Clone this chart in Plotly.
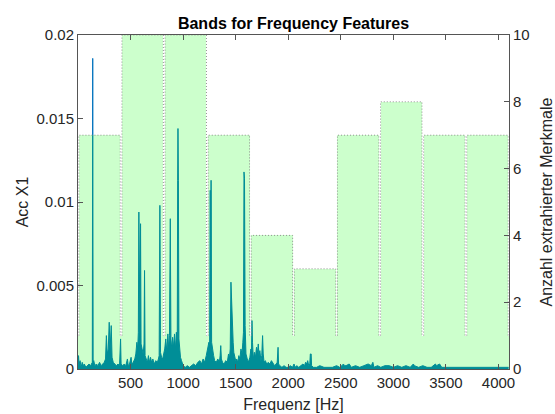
import plotly.graph_objects as go

# ---- data ----
band_edges_hz = [0, 410, 820, 1230, 1640, 2050, 2460, 2870, 3280, 3690, 4100]
features_per_band = [7, 10, 10, 7, 4, 3, 7, 8, 7, 7]

freq_hz = [0, 5, 10, 20, 30, 40, 50, 60, 75, 90, 105, 120, 132, 136, 140, 144, 150, 160, 175, 190,
           205, 220, 235, 250, 262, 270, 278, 288, 297, 305, 316, 324, 335, 350, 365, 380, 395, 405, 410, 425,
           440, 455, 470, 478, 490, 505, 512, 525, 540, 550, 560, 568, 574, 579, 584, 590, 595, 600, 610, 620,
           628, 633, 638, 650, 660, 670, 678, 690, 700, 712, 725, 740, 755, 765, 772, 779, 785, 795, 805, 815,
           825, 835, 845, 855, 862, 870, 878, 884, 892, 900, 910, 918, 928, 936, 944, 948, 951, 955, 960, 968,
           975, 985, 1000, 1020, 1040, 1060, 1080, 1100, 1120, 1140, 1160, 1175, 1190, 1205, 1220, 1235, 1245, 1252, 1258, 1262,
           1266, 1271, 1280, 1290, 1300, 1315, 1330, 1345, 1352, 1358, 1364, 1375, 1390, 1405, 1420, 1432, 1440, 1448, 1455, 1460,
           1465, 1470, 1476, 1482, 1490, 1500, 1510, 1520, 1530, 1540, 1550, 1560, 1568, 1574, 1579, 1584, 1590, 1598, 1610, 1620,
           1635, 1645, 1650, 1655, 1660, 1668, 1678, 1688, 1698, 1706, 1715, 1722, 1730, 1740, 1748, 1756, 1762, 1770, 1782, 1795,
           1810, 1825, 1840, 1855, 1870, 1885, 1895, 1903, 1908, 1920, 1940, 1960, 1980, 2000, 2020, 2040, 2055, 2065, 2080, 2100,
           2120, 2140, 2155, 2165, 2175, 2185, 2195, 2205, 2210, 2218, 2222, 2240, 2270, 2300, 2340, 2380, 2420, 2460, 2490, 2510,
           2525, 2535, 2550, 2580, 2600, 2640, 2680, 2720, 2760, 2790, 2805, 2815, 2850, 2880, 2920, 2960, 3000, 3040, 3080, 3120,
           3160, 3190, 3200, 3240, 3280, 3320, 3360, 3400, 3410, 3440, 3460, 3500, 3560, 3620, 3680, 3740, 3800, 3860, 3920, 3980,
           4040, 4096]

acc_x1 = [0.0002, 0.0008, 0.0003, 0.0005, 0.0001, 0.0004, 0.0002, 0.0003, 0.0001, 0.0002, 0.0003, 0.0002, 0.0003, 0.0004, 0.0186, 0.0004, 0.0005, 0.0002, 0.0003, 0.0002,
          0.0004, 0.0002, 0.0003, 0.0004, 0.0006, 0.0020, 0.0009, 0.0012, 0.0028, 0.0011, 0.0026, 0.0007, 0.0004, 0.0003, 0.0002, 0.0003, 0.0002, 0.0018, 0.0003, 0.0002,
          0.0003, 0.0002, 0.0006, 0.0002, 0.0003, 0.0007, 0.0003, 0.0004, 0.0006, 0.0009, 0.0016, 0.0012, 0.0022, 0.0094, 0.0020, 0.0018, 0.0087, 0.0015, 0.0012, 0.0009,
          0.0015, 0.0059, 0.0008, 0.0005, 0.0004, 0.0008, 0.0004, 0.0007, 0.0004, 0.0006, 0.0003, 0.0005, 0.0004, 0.0006, 0.0008, 0.0098, 0.0010, 0.0007, 0.0006, 0.0009,
          0.0012, 0.0018, 0.0010, 0.0021, 0.0012, 0.0020, 0.0090, 0.0018, 0.0012, 0.0019, 0.0013, 0.0021, 0.0012, 0.0022, 0.0014, 0.0113, 0.0144, 0.0113, 0.0018, 0.0010,
          0.0007, 0.0005, 0.0002, 0.0001, 0.0002, 0.0001, 0.0002, 0.0003, 0.0002, 0.0004, 0.0005, 0.0003, 0.0006, 0.0004, 0.0008, 0.0012, 0.0016, 0.0013, 0.0107, 0.0018,
          0.0113, 0.0016, 0.0011, 0.0008, 0.0005, 0.0004, 0.0006, 0.0004, 0.0008, 0.0014, 0.0006, 0.0004, 0.0003, 0.0005, 0.0004, 0.0009, 0.0006, 0.0012, 0.0052, 0.0042,
          0.0029, 0.0022, 0.0016, 0.0010, 0.0007, 0.0005, 0.0006, 0.0004, 0.0008, 0.0006, 0.0012, 0.0009, 0.0016, 0.0022, 0.0118, 0.0114, 0.0026, 0.0009, 0.0006, 0.0004,
          0.0007, 0.0012, 0.0008, 0.0029, 0.0016, 0.0006, 0.0010, 0.0007, 0.0013, 0.0009, 0.0015, 0.0008, 0.0011, 0.0005, 0.0008, 0.0020, 0.0009, 0.0004, 0.0005, 0.0003,
          0.0004, 0.0003, 0.0005, 0.0003, 0.0002, 0.0003, 0.0004, 0.0013, 0.0003, 0.0002, 0.0001, 0.0002, 0.0001, 0.0001, 0.0002, 0.0001, 0.0003, 0.0001, 0.0002, 0.0001,
          0.0002, 0.0003, 0.0002, 0.0004, 0.0003, 0.0005, 0.0002, 0.0003, 0.0009, 0.0009, 0.0002, 0.0001, 0.0001, 0.0002, 0.0001, 0.0001, 0.0001, 0.0002, 0.0001, 0.0002,
          0.0003, 0.0002, 0.0002, 0.0003, 0.0001, 0.0002, 0.0001, 0.0002, 0.0003, 0.0002, 0.0004, 0.0001, 0.0002, 0.0001, 0.0002, 0.0002, 0.0001, 0.0002, 0.0001, 0.0002,
          0.0001, 0.0003, 0.0002, 0.0001, 0.0002, 0.0001, 0.0001, 0.0003, 0.0002, 0.0003, 0.0001, 0.0001, 0.0001, 0.0001, 0.0001, 0.0001, 0.0001, 0.0001, 0.0001, 0.0001,
          0.0001, 0.0001]

x_ticks = [500, 1000, 1500, 2000, 2500, 3000, 3500, 4000]
y_ticks = [0, 0.005, 0.01, 0.015, 0.02]
y_tick_labels = ["0", "0.005", "0.01", "0.015", "0.02"]
y2_ticks = [0, 2, 4, 6, 8, 10]

GREEN = "rgba(0,255,0,0.2)"
LINE_BLUE = "#0072BD"
TXT = "#262626"
FONT = "Liberation Sans, Arial, sans-serif"

fig = go.Figure()

# spectrum on left axis
fig.add_trace(go.Scatter(x=freq_hz, y=acc_x1, mode="lines",
                         line=dict(color=LINE_BLUE, width=1),
                         fill="tozeroy", fillcolor=LINE_BLUE,
                         yaxis="y", showlegend=False, hoverinfo="skip"))

# bars on right axis
centers = [(a + b) / 2 for a, b in zip(band_edges_hz[:-1], band_edges_hz[1:])]
widths = [(b - a) for a, b in zip(band_edges_hz[:-1], band_edges_hz[1:])]
base_level = 1
# lower continuous part
fig.add_trace(go.Bar(x=[(band_edges_hz[0] + band_edges_hz[-1]) / 2], y=[base_level],
                     width=[band_edges_hz[-1] - band_edges_hz[0]], base=[0],
                     marker=dict(color=GREEN, line=dict(width=0)),
                     yaxis="y2", showlegend=False, hoverinfo="skip"))
# upper separated parts
frac = 0.96
fig.add_trace(go.Bar(x=centers, y=[h - base_level for h in features_per_band],
                     width=[w * frac for w in widths], base=[base_level] * len(centers),
                     marker=dict(color=GREEN, line=dict(width=0)),
                     yaxis="y2", showlegend=False, hoverinfo="skip"))
# dotted outlines
ox, oy = [], []
for c, w, h in zip(centers, widths, features_per_band):
    l, r = c - w * frac / 2, c + w * frac / 2
    ox += [l, l, r, r, None]
    oy += [base_level, h, h, base_level, None]
fig.add_trace(go.Scatter(x=ox, y=oy, mode="lines",
                         line=dict(color="#909090", width=1, dash="1px,2px"),
                         yaxis="y2", showlegend=False, hoverinfo="skip"))

fig.update_layout(
    width=555, height=414,
    margin=dict(l=78, r=46, t=35, b=45, autoexpand=False),
    paper_bgcolor="white", plot_bgcolor="white",
    barmode="overlay", bargap=0,
    font=dict(family=FONT, size=15, color=TXT),
    title=dict(text="<b>Bands for Frequency Features</b>", x=0.5, xref="paper",
               y=1, yref="paper", yanchor="bottom", pad=dict(b=6),
               font=dict(family=FONT, size=16, color="black")),
    xaxis=dict(range=[band_edges_hz[0], band_edges_hz[-1]], tickvals=x_ticks, automargin=False,
               ticks="inside", ticklen=5, tickcolor="#555", showline=True, linecolor="#555",
               linewidth=1, mirror="ticks", showgrid=False, zeroline=False,
               title=dict(text="Frequenz [Hz]", standoff=8, font=dict(size=16)),
               tickfont=dict(size=15)),
    yaxis=dict(range=[0, 0.02], tickvals=y_ticks, ticktext=y_tick_labels, automargin=False,
               ticks="inside", ticklen=5, tickcolor="#555", showline=True, linecolor="#555",
               linewidth=1, showgrid=False, zeroline=False,
               title=dict(text="Acc X1", standoff=3, font=dict(size=16)),
               tickfont=dict(size=15)),
    yaxis2=dict(range=[0, 10], tickvals=y2_ticks, overlaying="y", side="right", automargin=False,
                ticks="inside", ticklen=5, tickcolor="#555", showline=True, linecolor="#555",
                linewidth=1, showgrid=False, zeroline=False,
                title=dict(text="Anzahl extrahierter Merkmale", standoff=14, font=dict(size=16)),
                tickfont=dict(size=15)),
)

fig.write_html("out.html")
